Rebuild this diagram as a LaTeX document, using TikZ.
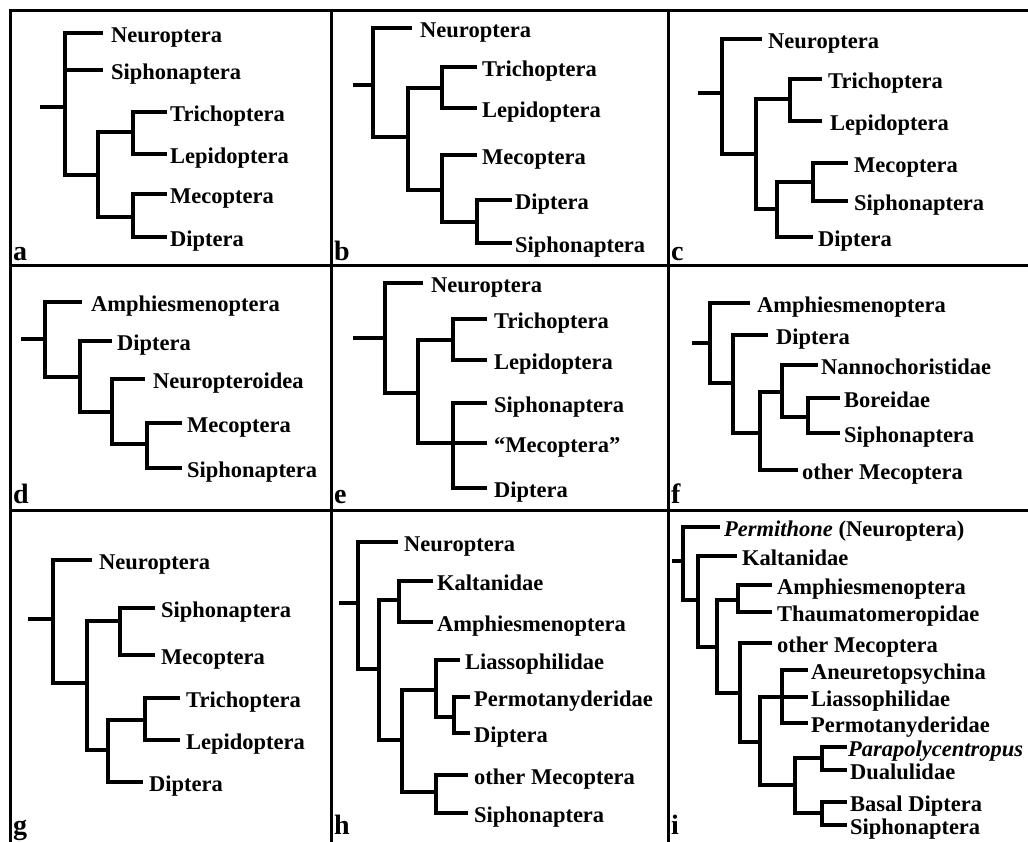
\documentclass[tikz,border=0pt]{standalone}
\usepackage{fontspec}
\setmainfont{Liberation Serif}

\begin{document}
\begin{tikzpicture}[
    x=1pt, y=-1pt,
    branch/.style={line width=3.3pt, line join=miter},
    frame/.style={line width=3pt},
    leaf/.style={anchor=west, font=\fontsize{22.5}{26}\selectfont\bfseries,
        inner xsep=3pt, inner ysep=0pt, text height=23.4pt, text depth=4.5pt},
    tag/.style={anchor=base west, font=\fontsize{28}{32}\selectfont\bfseries,
        inner sep=0pt},
]
\useasboundingbox (0,0) rectangle (1028,841);

% Frame and grid
\draw[frame] (10,10) rectangle (1034,847);
\draw[frame] (331,10) -- (331,847) (668,10) -- (668,847)
    (10,265) -- (1034,265) (10,510) -- (1034,510);

% Panel a
\coordinate (a0) at (40,107);
\coordinate (a1) at (65,107);
\coordinate (a2) at (98,175);
\coordinate (a3) at (133,132);
\coordinate (a4) at (133,217);
\node[leaf, inner xsep=8pt] (aNeu) at (103,33) {Neuroptera};
\node[leaf, inner xsep=8pt] (aSip) at (103,70) {Siphonaptera};
\node[leaf] (aTri) at (167,112) {Trichoptera};
\node[leaf] (aLep) at (167,154) {Lepidoptera};
\node[leaf] (aMec) at (167,194) {Mecoptera};
\node[leaf] (aDip) at (167,237) {Diptera};
\foreach \p/\c in {a0/a1, a1/aNeu.west, a1/aSip.west, a1/a2, a2/a3, a2/a4,
    a3/aTri.west, a3/aLep.west, a4/aMec.west, a4/aDip.west} {
    \draw[branch] (\p) |- (\c);
}
\node[tag] (tagA) at (13,260) {a};

% Panel b
\coordinate (b0) at (353,85);
\coordinate (b1) at (373,85);
\coordinate (b2) at (408,137);
\coordinate (b3) at (442,88);
\coordinate (b4) at (442,190);
\coordinate (b5) at (477,222);
\node[leaf, inner xsep=8pt] (bNeu) at (412,28) {Neuroptera};
\node[leaf, inner xsep=5pt] (bTri) at (477,67) {Trichoptera};
\node[leaf, inner xsep=5pt] (bLep) at (477,108) {Lepidoptera};
\node[leaf, inner xsep=5pt] (bMec) at (477,155) {Mecoptera};
\node[leaf] (bDip) at (512,200) {Diptera};
\node[leaf] (bSip) at (512,243) {Siphonaptera};
\foreach \p/\c in {b0/b1, b1/bNeu.west, b1/b2, b2/b3, b2/b4, b3/bTri.west,
    b3/bLep.west, b4/bMec.west, b4/b5, b5/bDip.west, b5/bSip.west} {
    \draw[branch] (\p) |- (\c);
}
\node[tag] (tagB) at (334,260) {b};

% Panel c
\coordinate (c0) at (698,93);
\coordinate (c1) at (722,93);
\coordinate (c2) at (756,154);
\coordinate (c3) at (790,99);
\coordinate (c4) at (777,209);
\coordinate (c5) at (813,182);
\node[leaf, inner xsep=6pt] (cNeu) at (762,39) {Neuroptera};
\node[leaf, inner xsep=6pt] (cTri) at (822,79) {Trichoptera};
\node[leaf, inner xsep=8pt] (cLep) at (822,121) {Lepidoptera};
\node[leaf, inner xsep=6pt] (cMec) at (848,163) {Mecoptera};
\node[leaf, inner xsep=6pt] (cSip) at (848,201) {Siphonaptera};
\node[leaf, inner xsep=5pt] (cDip) at (813,237) {Diptera};
\foreach \p/\c in {c0/c1, c1/cNeu.west, c1/c2, c2/c3, c2/c4, c3/cTri.west,
    c3/cLep.west, c4/c5, c4/cDip.west, c5/cMec.west, c5/cSip.west} {
    \draw[branch] (\p) |- (\c);
}
\node[tag] (tagC) at (671,260) {c};

% Panel d
\coordinate (d0) at (21,339);
\coordinate (d1) at (45,339);
\coordinate (d2) at (80,377);
\coordinate (d3) at (112,412);
\coordinate (d4) at (147,444);
\node[leaf, inner xsep=9pt] (dAmp) at (82,302) {Amphiesmenoptera};
\node[leaf, inner xsep=5pt] (dDip) at (112,341) {Diptera};
\node[leaf, inner xsep=8pt] (dNeu) at (145,379) {Neuropteroidea};
\node[leaf, inner xsep=5pt] (dMec) at (182,423) {Mecoptera};
\node[leaf, inner xsep=5pt] (dSip) at (182,468) {Siphonaptera};
\foreach \p/\c in {d0/d1, d1/dAmp.west, d1/d2, d2/dDip.west, d2/d3,
    d3/dNeu.west, d3/d4, d4/dMec.west, d4/dSip.west} {
    \draw[branch] (\p) |- (\c);
}
\node[tag] (tagD) at (13,503) {d};

% Panel e
\coordinate (e0) at (353,338);
\coordinate (e1) at (385,338);
\coordinate (e2) at (418,393);
\coordinate (e3) at (453,340);
\coordinate (e4) at (453,443);
\node[leaf, inner xsep=8pt] (eNeu) at (423,283) {Neuroptera};
\node[leaf, inner xsep=7pt] (eTri) at (487,319) {Trichoptera};
\node[leaf, inner xsep=7pt] (eLep) at (487,360) {Lepidoptera};
\node[leaf, inner xsep=7pt] (eSip) at (487,403) {Siphonaptera};
\node[leaf, inner xsep=7pt] (eMec) at (487,443) {“Mecoptera”};
\node[leaf, inner xsep=7pt] (eDip) at (487,488) {Diptera};
\foreach \p/\c in {e0/e1, e1/eNeu.west, e1/e2, e2/e3, e2/e4, e3/eTri.west,
    e3/eLep.west, e4/eSip.west, e4/eMec.west, e4/eDip.west} {
    \draw[branch] (\p) |- (\c);
}
\node[tag] (tagE) at (334,503) {e};

% Panel f
\coordinate (f0) at (692,343);
\coordinate (f1) at (710,343);
\coordinate (f2) at (733,383);
\coordinate (f3) at (760,433);
\coordinate (f4) at (782,392);
\coordinate (f5) at (808,417);
\node[leaf, inner xsep=7pt] (fAmp) at (750,303) {Amphiesmenoptera};
\node[leaf, inner xsep=8pt] (fDip) at (768,335) {Diptera};
\node[leaf] (fNan) at (818,365) {Nannochoristidae};
\node[leaf, inner xsep=4pt] (fBor) at (840,398) {Boreidae};
\node[leaf, inner xsep=4pt] (fSip) at (840,433) {Siphonaptera};
\node[leaf, inner xsep=4pt] (fMec) at (798,470) {other Mecoptera};
\foreach \p/\c in {f0/f1, f1/fAmp.west, f1/f2, f2/fDip.west, f2/f3, f3/f4,
    f3/fMec.west, f4/fNan.west, f4/f5, f5/fBor.west, f5/fSip.west} {
    \draw[branch] (\p) |- (\c);
}
\node[tag] (tagF) at (671,503) {f};

% Panel g
\coordinate (g0) at (28,619);
\coordinate (g1) at (53,619);
\coordinate (g2) at (87,683);
\coordinate (g3) at (120,621);
\coordinate (g4) at (108,750);
\coordinate (g5) at (145,720);
\node[leaf, inner xsep=7pt] (gNeu) at (92,560) {Neuroptera};
\node[leaf, inner xsep=6pt] (gSip) at (155,608) {Siphonaptera};
\node[leaf, inner xsep=6pt] (gMec) at (155,655) {Mecoptera};
\node[leaf, inner xsep=6pt] (gTri) at (180,698) {Trichoptera};
\node[leaf, inner xsep=6pt] (gLep) at (180,740) {Lepidoptera};
\node[leaf, inner xsep=6pt] (gDip) at (143,782) {Diptera};
\foreach \p/\c in {g0/g1, g1/gNeu.west, g1/g2, g2/g3, g2/g4, g3/gSip.west,
    g3/gMec.west, g4/g5, g4/gDip.west, g5/gTri.west, g5/gLep.west} {
    \draw[branch] (\p) |- (\c);
}
\node[tag] (tagG) at (13,834) {g};

% Panel h
\coordinate (h0) at (339,603);
\coordinate (h1) at (358,603);
\coordinate (h2) at (379,669);
\coordinate (h3) at (399,600);
\coordinate (h4) at (402,740);
\coordinate (h5) at (436,690);
\coordinate (h6) at (436,792);
\coordinate (h7) at (454,717);
\node[leaf, inner xsep=6pt] (hNeu) at (398,542) {Neuroptera};
\node[leaf, inner xsep=4pt] (hKal) at (433,581) {Kaltanidae};
\node[leaf, inner xsep=4pt] (hAmp) at (433,622) {Amphiesmenoptera};
\node[leaf, inner xsep=5pt] (hLia) at (460,660) {Liassophilidae};
\node[leaf, inner xsep=4pt] (hPer) at (470,697) {Permotanyderidae};
\node[leaf, inner xsep=4pt] (hDip) at (470,733) {Diptera};
\node[leaf, inner xsep=6pt] (hMec) at (468,775) {other Mecoptera};
\node[leaf, inner xsep=6pt] (hSip) at (468,813) {Siphonaptera};
\foreach \p/\c in {h0/h1, h1/hNeu.west, h1/h2, h2/h3, h2/h4, h3/hKal.west,
    h3/hAmp.west, h4/h5, h4/h6, h5/hLia.west, h5/h7, h7/hPer.west,
    h7/hDip.west, h6/hMec.west, h6/hSip.west} {
    \draw[branch] (\p) |- (\c);
}
\node[tag] (tagH) at (334,834) {h};

% Panel i
\coordinate (i0) at (672,561);
\coordinate (i1) at (683,561);
\coordinate (i2) at (698,600);
\coordinate (i3) at (717,647);
\coordinate (i4) at (738,600);
\coordinate (i5) at (740,693);
\coordinate (i6) at (760,742);
\coordinate (i7) at (782,697);
\coordinate (i8) at (795,785);
\coordinate (i9) at (822,758);
\coordinate (i10) at (822,813);
\node[leaf, inner xsep=4pt] (iPer) at (720,527) {\textit{Permithone} (Neuroptera)};
\node[leaf, inner xsep=5pt] (iKal) at (737,556) {Kaltanidae};
\node[leaf, inner xsep=5pt] (iAmp) at (772,585) {Amphiesmenoptera};
\node[leaf, inner xsep=5pt] (iTha) at (772,612) {Thaumatomeropidae};
\node[leaf, inner xsep=5pt] (iMec) at (772,643) {other Mecoptera};
\node[leaf] (iAne) at (808,670) {Aneuretopsychina};
\node[leaf] (iLia) at (808,697) {Liassophilidae};
\node[leaf] (iPmt) at (808,723) {Permotanyderidae};
\node[leaf, inner xsep=1pt] (iPar) at (847,747) {\textit{Parapolycentropus}};
\node[leaf] (iDua) at (847,770) {Dualulidae};
\node[leaf] (iBas) at (847,802) {Basal Diptera};
\node[leaf] (iSip) at (847,825) {Siphonaptera};
\foreach \p/\c in {i0/i1, i1/iPer.west, i1/i2, i2/iKal.west, i2/i3, i3/i4,
    i3/i5, i4/iAmp.west, i4/iTha.west, i5/iMec.west, i5/i6, i6/i7, i6/i8,
    i7/iAne.west, i7/iLia.west, i7/iPmt.west, i8/i9, i8/i10, i9/iPar.west,
    i9/iDua.west, i10/iBas.west, i10/iSip.west} {
    \draw[branch] (\p) |- (\c);
}
\node[tag] (tagI) at (671,834) {i};
\end{tikzpicture}
\end{document}
